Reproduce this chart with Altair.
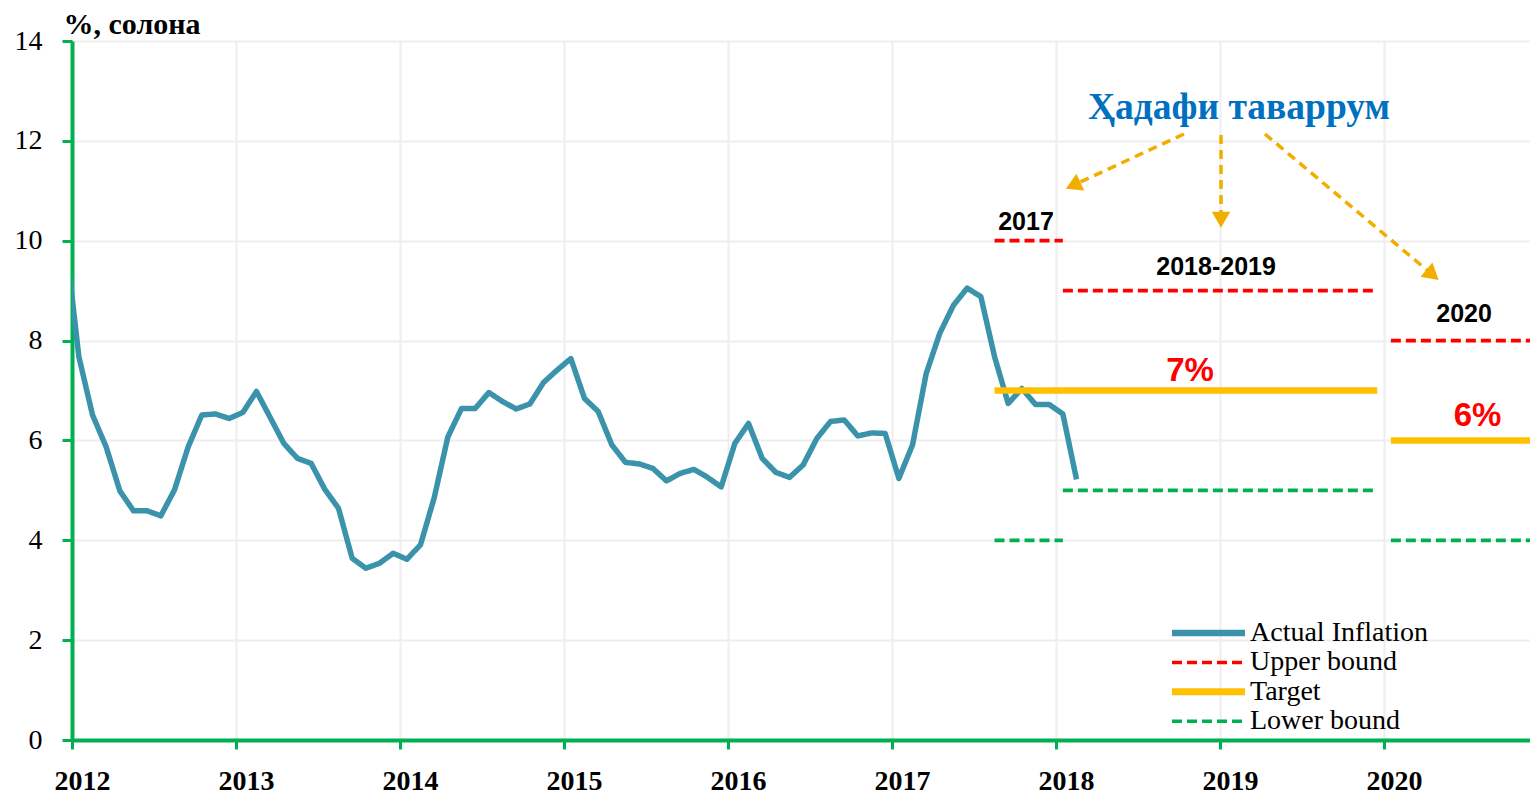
import altair as alt
import pandas as pd

# ---------------- data ----------------
# Monthly CPI inflation (% y/y), Dec 2011 .. Feb 2018
start_year, start_month = 2011, 12
inflation = [10.1,
             7.68, 6.51, 5.87, 4.99, 4.59, 4.59, 4.49, 5.01, 5.87, 6.51, 6.53, 6.44,
             6.56, 6.98, 6.46, 5.94, 5.64, 5.54, 5.02, 4.64, 3.64, 3.44, 3.54, 3.74,
             3.62, 3.91, 4.85, 6.07, 6.64, 6.64, 6.96, 6.78, 6.63, 6.73, 7.16, 7.41,
             7.64, 6.84, 6.58, 5.91, 5.56, 5.53, 5.44, 5.19, 5.34, 5.42, 5.26, 5.07,
             5.94, 6.34, 5.64, 5.36, 5.26, 5.51, 6.04, 6.38, 6.41, 6.09, 6.15, 6.14,
             5.24, 5.91, 7.34, 8.15, 8.71, 9.05, 8.88, 7.68, 6.74, 7.04, 6.72, 6.72,
             6.53, 5.22]

series_names = ["Actual Inflation", "Upper bound", "Target", "Lower bound"]
series_colors = ["#3A93AB", "#FF0000", "#FFC000", "#00B050"]

period_labels = ["2017", "2018-2019", "2020"]
period_start = [(2017, 8), (2018, 1), (2020, 1)]
period_end = [(2018, 1), (2019, 12), (2020, 12)]
upper_bound = [10, 9, 8]
target_value = [7, 7, 6]
lower_bound = [4, 5, 4]

# annotation texts (positions in data units: year, percent)
title_text = ["Ҳадафи таваррум"]
title_x = [2019.116]
title_y = [12.66]

period_text_x = [2017.817, 2018.976, 2020.488]
period_text_y = [10.375, 9.473, 8.542]

pct_text = ["7%", "6%"]
pct_x = [2018.817, 2020.570]
pct_y = [7.39, 6.49]

# arrows from the title to the period labels
arrow_x0 = [2018.780, 2019.006, 2019.274]
arrow_y0 = [12.137, 12.117, 12.137]
arrow_x1 = [2018.104, 2019.006, 2020.296]
arrow_y1 = [11.108, 10.421, 9.317]
arrow_angle = [245, 180, 130]

year_ticks = list(range(2012, 2021))
y_ticks = list(range(0, 15, 2))


def month_pos(y, m):
    return y + (m - 0.5) / 12


rows = []
for k, v in enumerate(inflation):
    mi = start_month - 1 + k
    yy = start_year + mi // 12
    mm = mi % 12 + 1
    rows.append({"x": month_pos(yy, mm), "y": v,
                 "series": "Actual Inflation", "seg": "actual"})
for lab, s, e, u, t, l in zip(period_labels, period_start, period_end,
                              upper_bound, target_value, lower_bound):
    for name, val in (("Upper bound", u), ("Target", t), ("Lower bound", l)):
        for (yy, mm) in (s, e):
            rows.append({"x": month_pos(yy, mm), "y": val,
                         "series": name, "seg": name + " " + lab})
lines_df = pd.DataFrame(rows)

title_df = pd.DataFrame({"x": title_x, "y": title_y, "t": title_text})
period_df = pd.DataFrame({"x": period_text_x, "y": period_text_y, "t": period_labels})
pct_df = pd.DataFrame({"x": pct_x, "y": pct_y, "t": pct_text})
arrow_df = pd.DataFrame({"x": arrow_x0, "y": arrow_y0, "x2": arrow_x1,
                         "y2": arrow_y1, "ang": arrow_angle})

# ---------------- styling ----------------
GREEN = "#00B050"
ARROW = "#F2AE00"
SERIF = "Liberation Serif"
SANS = "Liberation Sans"

xscale = alt.Scale(domain=[2012, 2020.89], nice=False, zero=False)
yscale = alt.Scale(domain=[0, 14], nice=False)

xaxis = alt.Axis(values=year_ticks, format="d", title=None, grid=True,
                 labelFont=SERIF, labelFontSize=28, labelFontWeight="bold",
                 labelColor="black", labelOffset=10, labelPadding=18,
                 labelFlush=False, labelOverlap=False,
                 tickSize=9, tickWidth=3, tickColor=GREEN,
                 domainColor=GREEN, domainWidth=4,
                 gridColor="#EEEEEE", gridWidth=2)
yaxis = alt.Axis(values=y_ticks, title="%, солона", grid=True,
                 labelFont=SERIF, labelFontSize=28, labelColor="black",
                 labelPadding=20, tickSize=10, tickWidth=3, tickColor=GREEN,
                 domainColor=GREEN, domainWidth=4,
                 gridColor="#EEEEEE", gridWidth=2,
                 titleAngle=0, titleX=-9, titleY=-8, titleAlign="left",
                 titleBaseline="alphabetic", titleFont=SERIF, titleFontSize=30,
                 titleFontWeight="bold", titleColor="black")

X = alt.X("x:Q", scale=xscale, axis=xaxis)
Y = alt.Y("y:Q", scale=yscale, axis=yaxis)

width_expr = ("(datum.series || datum.value) == 'Target' ? 6.5 : "
              "((datum.series || datum.value) == 'Actual Inflation' ? 5.5 : 3.8)")
legend_width_expr = ("datum.value == 'Target' ? 7 : "
                     "(datum.value == 'Actual Inflation' ? 6.5 : 3.5)")

legend = alt.Legend(title=None, orient="none", legendX=1149, legendY=578,
                    symbolType="M-6.3,0L1,0", symbolSize=400,
                    symbolStrokeWidth=alt.ExprRef(expr=legend_width_expr),
                    labelFont=SERIF, labelFontSize=28, labelColor="black",
                    labelOffset=1, rowPadding=1.4, padding=0, labelLimit=400)

lines = alt.Chart(lines_df).mark_line(
    clip=True, strokeCap="butt", strokeJoin="round",
    strokeWidth=alt.ExprRef(expr=width_expr)
).encode(
    x=X, y=Y,
    color=alt.Color("series:N", scale=alt.Scale(domain=series_names, range=series_colors),
                    legend=legend),
    strokeDash=alt.StrokeDash("series:N",
                              scale=alt.Scale(domain=series_names,
                                              range=[[1, 0], [10, 5], [1, 0], [10, 5]]),
                              legend=legend),
    detail="seg:N",
)

arrows = alt.Chart(arrow_df).mark_rule(
    color=ARROW, strokeWidth=3.5, strokeDash=[9, 6], strokeCap="butt"
).encode(x=X, y=Y, x2="x2:Q", y2="y2:Q")

heads = alt.Chart(arrow_df).mark_point(
    shape="triangle-up", filled=True, size=340, color=ARROW, opacity=1
).encode(x=alt.X("x2:Q", scale=xscale, axis=xaxis),
         y=alt.Y("y2:Q", scale=yscale, axis=yaxis),
         angle=alt.Angle("ang:Q", scale=None))

title_txt = alt.Chart(title_df).mark_text(
    font=SERIF, fontSize=37.5, fontWeight="bold", color="#0070C0",
    align="center", baseline="middle"
).encode(x=X, y=Y, text="t:N")

period_txt = alt.Chart(period_df).mark_text(
    font=SANS, fontSize=25, fontWeight="bold", color="black",
    align="center", baseline="middle"
).encode(x=X, y=Y, text="t:N")

pct_txt = alt.Chart(pct_df).mark_text(
    font=SANS, fontSize=33, fontWeight="bold", color="#FF0000",
    align="center", baseline="middle"
).encode(x=X, y=Y, text="t:N")

chart = alt.layer(lines, arrows, heads, title_txt, period_txt, pct_txt).properties(
    width=1458, height=699,
    autosize=alt.AutoSizeParams(type="none"),
    padding={"left": 64, "top": 33, "right": 0, "bottom": 54},
).configure_view(stroke="transparent")

chart.save("out.html", embed_options={"renderer": "svg", "actions": False})
